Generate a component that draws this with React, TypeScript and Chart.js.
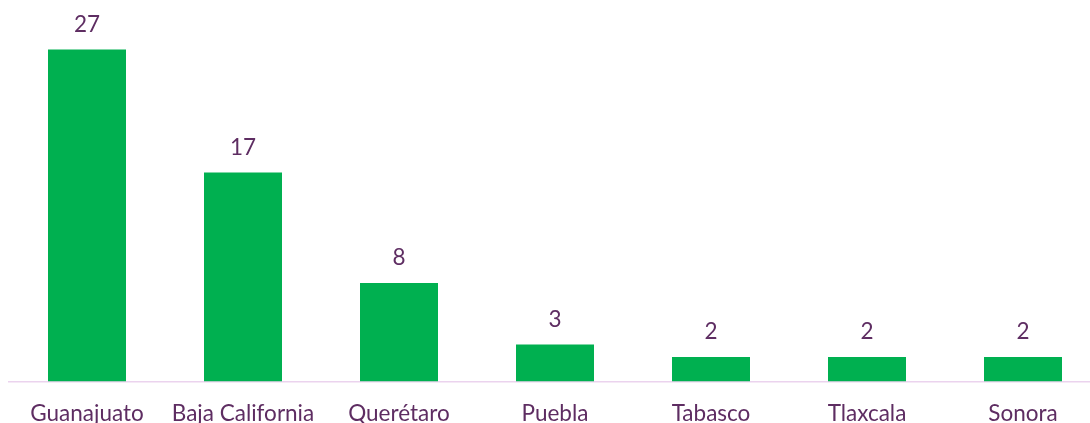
import React, { useEffect, useRef } from "react";
import { Chart, registerables } from "chart.js";

Chart.register(...registerables);

const categories: string[] = ["Guanajuato", "Baja California", "Querétaro", "Puebla", "Tabasco", "Tlaxcala", "Sonora"];
const values: number[] = [27, 17, 8, 3, 2, 2, 2];
const yMax = 30;

const TEXT_COLOR = "#5E2D62";
const BAR_COLOR = "#00B050";
const AXIS_COLOR = "#EBD3EE";
const FONT_FAMILY = "Lato, 'Noto Sans', sans-serif";
const FONT_SIZE = 22.5;

const valueLabels = {
  id: "valueLabels",
  afterDatasetsDraw(chart: any) {
    const ctx = chart.ctx;
    const meta = chart.getDatasetMeta(0);
    ctx.save();
    ctx.fillStyle = TEXT_COLOR;
    ctx.font = `${FONT_SIZE}px ${FONT_FAMILY}`;
    ctx.textAlign = "center";
    ctx.textBaseline = "middle";
    meta.data.forEach((bar: any, i: number) => {
      ctx.fillText(String(values[i]), bar.x, bar.y - 25);
    });
    ctx.restore();
  },
};

export default function App() {
  const ref = useRef<HTMLCanvasElement | null>(null);
  useEffect(() => {
    if (!ref.current) return;
    const chart = new Chart(ref.current, {
      type: "bar",
      data: {
        labels: categories,
        datasets: [
          {
            data: values,
            backgroundColor: BAR_COLOR,
            borderWidth: 0,
            categoryPercentage: 1,
            barPercentage: 0.5,
          },
        ],
      },
      options: {
        animation: false,
        responsive: false,
        maintainAspectRatio: false,
        layout: { padding: { top: 12.5, left: 9, right: 9, bottom: 0 } },
        plugins: { legend: { display: false }, tooltip: { enabled: false } },
        scales: {
          x: {
            grid: { display: false, drawTicks: false },
            border: { display: true, color: AXIS_COLOR, width: 1.5 },
            ticks: {
              color: TEXT_COLOR,
              font: { family: FONT_FAMILY, size: FONT_SIZE },
              padding: 19,
              maxRotation: 0,
              autoSkip: false,
            },
            afterFit: (scale: any) => {
              scale.height = 41.5;
            },
          },
          y: {
            display: false,
            min: 0,
            max: yMax,
          },
        },
      },
      plugins: [valueLabels],
    });
    return () => chart.destroy();
  }, []);
  return (
    <div style={{ position: "fixed", left: 0, top: 0, width: 1090, height: 423, overflow: "hidden", background: "#fff" }}>
      <canvas ref={ref} width={1110} height={423} style={{ display: "block", width: 1110, height: 423 }} />
    </div>
  );
}
